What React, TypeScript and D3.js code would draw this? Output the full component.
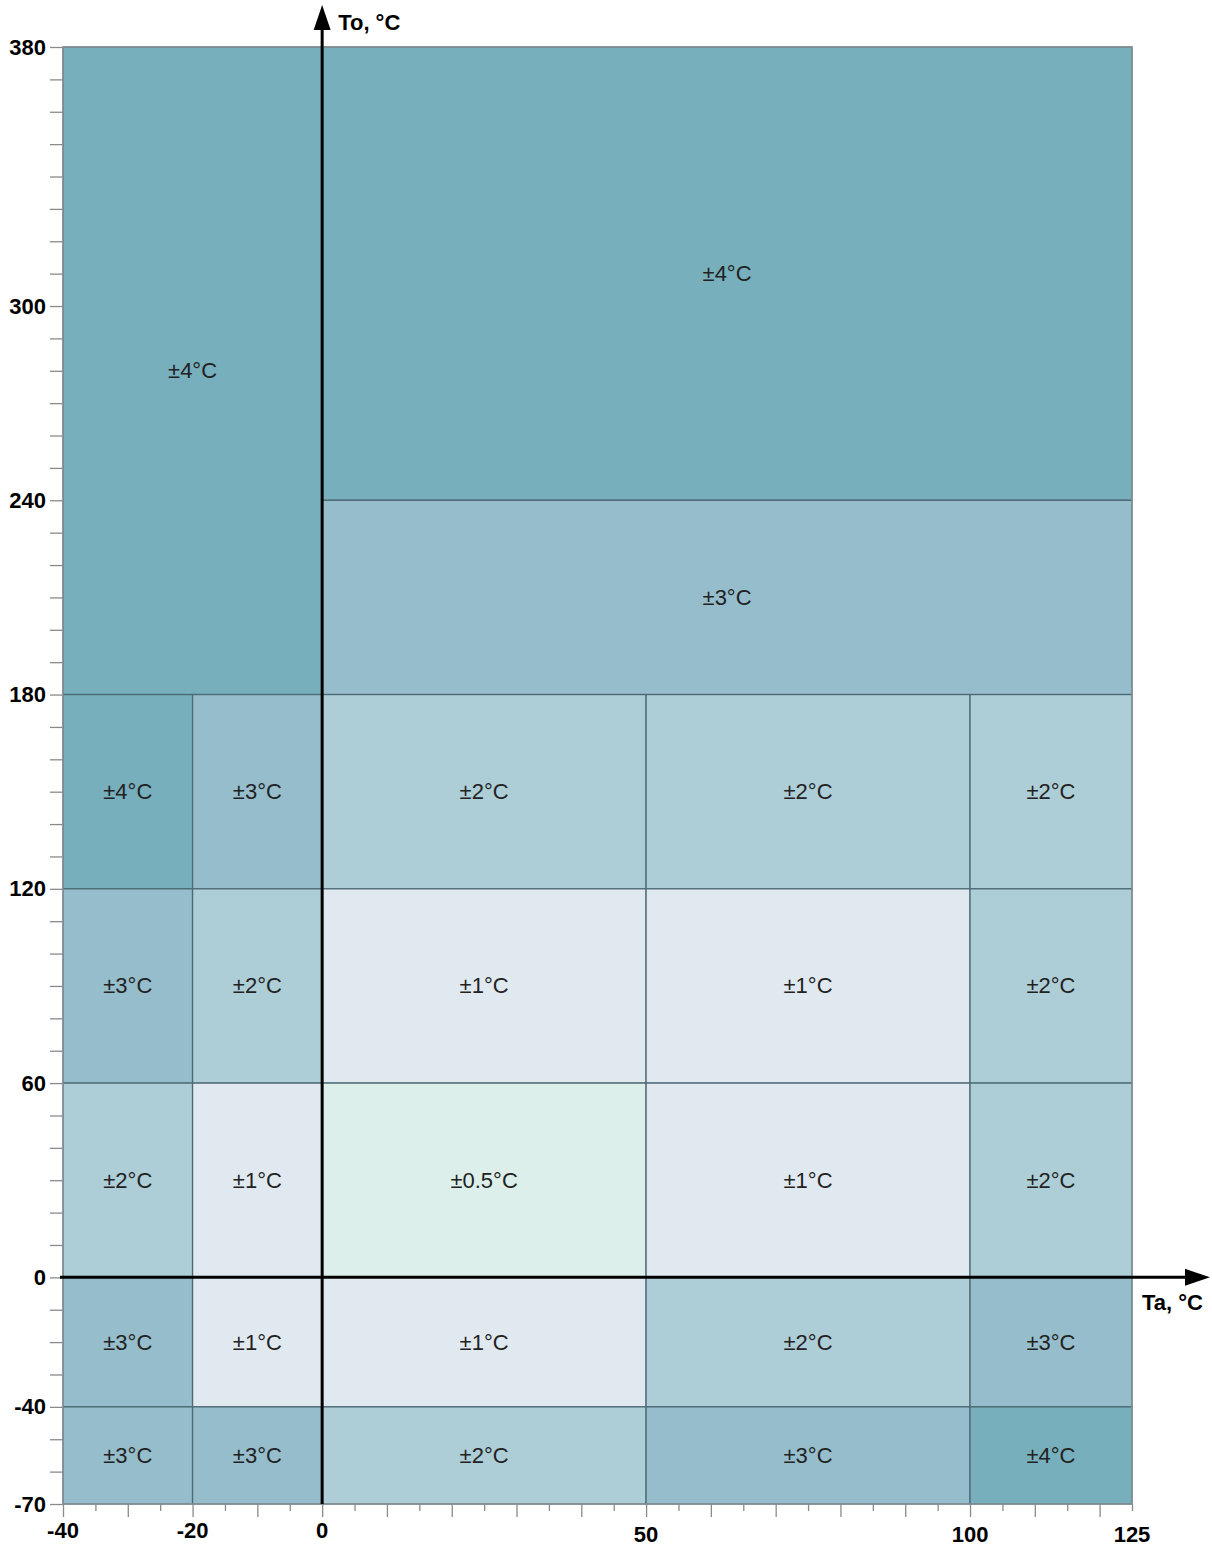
import React, { useEffect, useRef } from "react";
import * as d3 from "d3";

// Ta (ambient) column edges and To (object) row edges of the accuracy grid
const taEdges = [-40, -20, 0, 50, 100, 125];
const toEdges = [180, 120, 60, 0, -40, -70];

// accuracy (±°C) per grid row (top to bottom) and column (left to right)
const gridAccuracy = [
  [4, 3, 2, 2, 2],
  [3, 2, 1, 1, 2],
  [2, 1, 0.5, 1, 2],
  [3, 1, 1, 2, 3],
  [3, 3, 2, 3, 4],
];

// the large zones above To = 180
const upperTa = [[-40, 0], [0, 125], [0, 125]];
const upperTo = [[180, 380], [240, 380], [180, 240]];
const upperAccuracy = [4, 4, 3];

const accuracyLevels = [0.5, 1, 2, 3, 4];
const accuracyColors = ["#ddefeb", "#e0e9ef", "#adcdd7", "#95bdcb", "#77afbc"];

const yTickLabels = [-70, -40, 0, 60, 120, 180, 240, 300, 380];
const xTickLabels = [-40, -20, 0, 50, 100, 125];

const W = 1212;
const H = 1548;
const FONT = "'Liberation Sans', Arial, sans-serif";

export default function App() {
  const ref = useRef<SVGSVGElement | null>(null);

  useEffect(() => {
    const svg = d3.select(ref.current);
    svg.selectAll("*").remove();

    const x = d3.scaleLinear().domain([-40, 125]).range([63, 1132]);
    const y = d3.scaleLinear().domain([-70, 380]).range([1504, 47]);
    const color = d3.scaleOrdinal<number, string>().domain(accuracyLevels).range(accuracyColors);

    const cells: { ta0: number; ta1: number; to0: number; to1: number; acc: number }[] = [];
    upperAccuracy.forEach((acc, i) => {
      cells.push({ ta0: upperTa[i][0], ta1: upperTa[i][1], to0: upperTo[i][0], to1: upperTo[i][1], acc });
    });
    gridAccuracy.forEach((row, r) => {
      row.forEach((acc, c) => {
        cells.push({ ta0: taEdges[c], ta1: taEdges[c + 1], to0: toEdges[r + 1], to1: toEdges[r], acc });
      });
    });

    svg
      .append("g")
      .selectAll("rect")
      .data(cells)
      .join("rect")
      .attr("x", (d) => x(d.ta0))
      .attr("y", (d) => y(d.to1))
      .attr("width", (d) => x(d.ta1) - x(d.ta0))
      .attr("height", (d) => y(d.to0) - y(d.to1))
      .attr("fill", (d) => color(d.acc))
      .attr("stroke", "#4d6a74")
      .attr("stroke-width", 1.3);

    svg
      .append("g")
      .selectAll("text")
      .data(cells)
      .join("text")
      .attr("x", (d) => x((d.ta0 + d.ta1) / 2))
      .attr("y", (d) => y((d.to0 + d.to1) / 2))
      .attr("text-anchor", "middle")
      .attr("dominant-baseline", "central")
      .attr("font-family", FONT)
      .attr("font-size", 22)
      .attr("fill", "#222")
      .text((d) => `±${d.acc}°C`);

    // outer frame
    svg
      .append("rect")
      .attr("x", x(-40))
      .attr("y", y(380))
      .attr("width", x(125) - x(-40))
      .attr("height", y(-70) - y(380))
      .attr("fill", "none")
      .attr("stroke", "#8c9498")
      .attr("stroke-width", 1.3);

    // y axis ticks, every 10
    const yAxis = d3
      .axisLeft(y)
      .tickValues(d3.range(-70, 381, 10))
      .tickSize(13)
      .tickFormat((d) => (yTickLabels.includes(+d) ? String(d) : ""))
      .tickPadding(4);
    const gy = svg.append("g").attr("transform", `translate(${x(-40)},0)`).call(yAxis);
    gy.select(".domain").remove();
    gy.selectAll("line").attr("stroke", "#8a8a8a").attr("stroke-width", 1.3);
    gy.selectAll("text")
      .attr("font-family", FONT)
      .attr("font-size", 22)
      .attr("font-weight", "bold")
      .attr("fill", "#000");

    // x axis ticks: long every 10, short at 5s
    const xMajor = d3.axisBottom(x).tickValues(d3.range(-40, 121, 10)).tickSize(13).tickFormat(() => "");
    const xMinor = d3.axisBottom(x).tickValues(d3.range(-35, 126, 10)).tickSize(7).tickFormat(() => "");
    [xMajor, xMinor].forEach((ax) => {
      const g = svg.append("g").attr("transform", `translate(0,${y(-70)})`).call(ax);
      g.select(".domain").remove();
      g.selectAll("line").attr("stroke", "#8a8a8a").attr("stroke-width", 1.3);
    });

    svg
      .append("g")
      .selectAll("text")
      .data(xTickLabels)
      .join("text")
      .attr("x", (d) => x(d))
      .attr("y", (d) => (d > 0 ? 1542 : 1538))
      .attr("text-anchor", "middle")
      .attr("font-family", FONT)
      .attr("font-size", 22)
      .attr("font-weight", "bold")
      .text((d) => String(d));

    // main axes through zero with arrows
    svg
      .append("line")
      .attr("x1", x(0))
      .attr("x2", x(0))
      .attr("y1", y(-70))
      .attr("y2", 28)
      .attr("stroke", "#000")
      .attr("stroke-width", 3);
    svg
      .append("path")
      .attr("d", `M${x(0)},5 L${x(0) - 8.5},30 L${x(0) + 8.5},30 Z`)
      .attr("fill", "#000");

    svg
      .append("line")
      .attr("x1", 60)
      .attr("x2", 1188)
      .attr("y1", y(0))
      .attr("y2", y(0))
      .attr("stroke", "#000")
      .attr("stroke-width", 3);
    svg
      .append("path")
      .attr("d", `M1210,${y(0)} L1185,${y(0) - 8.5} L1185,${y(0) + 8.5} Z`)
      .attr("fill", "#000");

    svg
      .append("text")
      .attr("x", x(0) + 16)
      .attr("y", 22)
      .attr("dominant-baseline", "central")
      .attr("font-family", FONT)
      .attr("font-size", 22)
      .attr("font-weight", "bold")
      .text("To, °C");

    svg
      .append("text")
      .attr("x", 1142)
      .attr("y", y(0) + 25)
      .attr("dominant-baseline", "central")
      .attr("font-family", FONT)
      .attr("font-size", 22)
      .attr("font-weight", "bold")
      .text("Ta, °C");
  }, []);

  return (
    <svg
      ref={ref}
      width={W}
      height={H}
      style={{ position: "absolute", left: 0, top: 0, display: "block", background: "#fff" }}
    />
  );
}
